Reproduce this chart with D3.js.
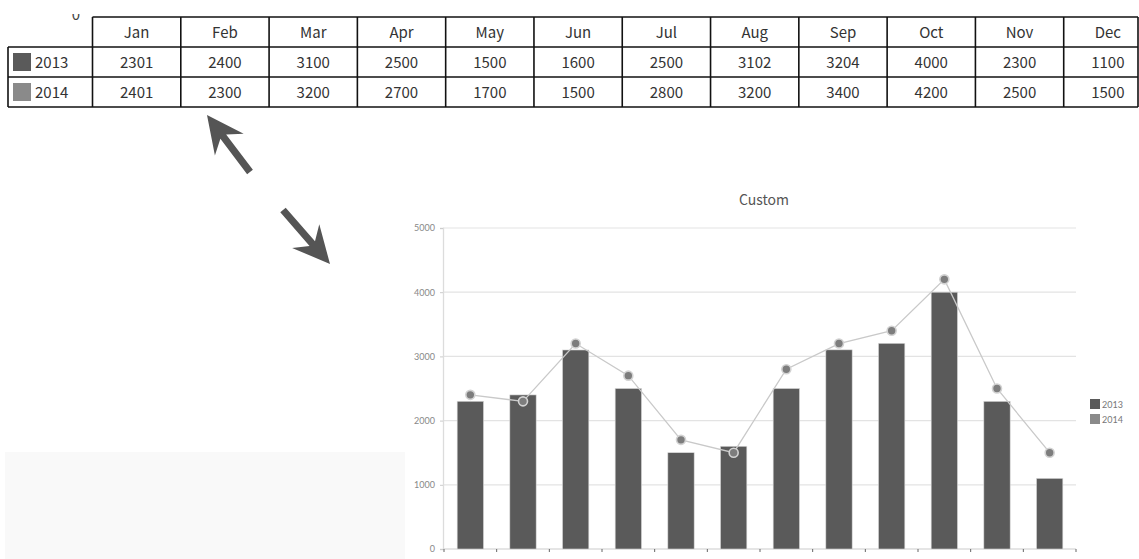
<!DOCTYPE html>
<html><head><meta charset="utf-8">
<script src="https://cdn.jsdelivr.net/npm/d3@7"></script>
<style>html,body{margin:0;padding:0;background:#fff;overflow:hidden}</style>
</head><body>
<svg id="c" width="1139" height="559"></svg>
<script>
const months = ["Jan","Feb","Mar","Apr","May","Jun","Jul","Aug","Sep","Oct","Nov","Dec"];
const series = ["2013","2014"];
const values2013 = [2301,2400,3100,2500,1500,1600,2500,3102,3204,4000,2300,1100];
const values2014 = [2401,2300,3200,2700,1700,1500,2800,3200,3400,4200,2500,1500];
const yTicks = [0,1000,2000,3000,4000,5000];
const chartTitle = "Custom";

const colors = {"2013":"#5a5a5a","2014":"#8a8a8a"};
const svg = d3.select("#c");

// background panel bottom-left
svg.append("rect").attr("x",5).attr("y",452).attr("width",400).attr("height",107).attr("fill","#f9f9f9");

// ---------- TABLE ----------
const tFont = "'Noto Sans CJK KR','Noto Sans',sans-serif";
const colX = d3.scaleBand().domain(months).range([92.5,1152]);
const rowY = d3.scaleBand().domain(["head"].concat(series)).range([17,107]);
const tableLeft = 8, tableRight = 1138;
const tbl = svg.append("g");
svg.append("defs").append("clipPath").attr("id","tc").append("rect").attr("x",0).attr("y",14).attr("width",1139).attr("height",100);
tbl.append("text").attr("x",76).attr("y",19.5).attr("text-anchor","middle").attr("font-family",tFont).attr("font-size",15).attr("fill","#444").attr("clip-path","url(#tc)").text("0");
// header texts
tbl.selectAll("text.h").data(months).join("text").attr("class","h")
  .attr("x",d=>colX(d)+colX.bandwidth()/2).attr("y",rowY("head")+rowY.bandwidth()/2+5.5)
  .attr("text-anchor","middle").attr("font-family",tFont).attr("font-size",15).attr("fill","#333").text(d=>d);
// rows
series.forEach((s,si)=>{
  const vals = si===0?values2013:values2014;
  const yc = rowY(s)+rowY.bandwidth()/2;
  tbl.append("rect").attr("x",13).attr("y",yc-9).attr("width",18).attr("height",18).attr("fill",colors[s]);
  tbl.append("text").attr("x",35).attr("y",yc+5.5).attr("font-family",tFont).attr("font-size",15).attr("fill","#333").text(s);
  tbl.selectAll("text.v"+s).data(vals).join("text").attr("class","v"+s)
    .attr("x",(d,i)=>colX(months[i])+colX.bandwidth()/2).attr("y",yc+5.5)
    .attr("text-anchor","middle").attr("font-family",tFont).attr("font-size",15).attr("fill","#333").text(d=>d);
});
// lines
const lw = 1.6, lc = "#111";
tbl.append("line").attr("x1",colX.range()[0]).attr("x2",tableRight).attr("y1",rowY("head")).attr("y2",rowY("head")).attr("stroke",lc).attr("stroke-width",lw);
[rowY(series[0]),rowY(series[1]),rowY(series[1])+rowY.bandwidth()].forEach(y=>{
  tbl.append("line").attr("x1",tableLeft).attr("x2",tableRight).attr("y1",y).attr("y2",y).attr("stroke",lc).attr("stroke-width",lw);
});
tbl.append("line").attr("x1",tableLeft).attr("x2",tableLeft).attr("y1",rowY(series[0])).attr("y2",107).attr("stroke",lc).attr("stroke-width",lw);
months.forEach(m=>{
  const x = colX(m);
  tbl.append("line").attr("x1",x).attr("x2",x).attr("y1",17).attr("y2",107).attr("stroke",lc).attr("stroke-width",lw);
});
tbl.append("line").attr("x1",tableRight).attr("x2",tableRight).attr("y1",17).attr("y2",107).attr("stroke",lc).attr("stroke-width",lw);

// ---------- ARROWS ----------
function arrow(x1,y1,x2,y2){
  const dx=x2-x1, dy=y2-y1, L=Math.hypot(dx,dy), ux=dx/L, uy=dy/L, px=-uy, py=ux;
  const hl=37, hw=18, notch=27, sw=3.6;
  const bx=x2-ux*hl, by=y2-uy*hl, nx=x2-ux*notch, ny=y2-uy*notch;
  const pts=[[x1+px*sw,y1+py*sw],[nx+px*sw,ny+py*sw],[bx+px*hw,by+py*hw],[x2,y2],[bx-px*hw,by-py*hw],[nx-px*sw,ny-py*sw],[x1-px*sw,y1-py*sw]];
  svg.append("path").attr("d","M"+pts.map(p=>p.join(",")).join("L")+"Z").attr("fill","#555");
}
arrow(250,172,207,115);
arrow(283,210,330,264);

// ---------- CHART ----------
const y = d3.scaleLinear().domain([0,5000]).range([549,228]);
const x = d3.scaleBand().domain(months).range([444,1076]).paddingInner(0.5).paddingOuter(0.25);
const cFont = "'Lato','DejaVu Sans',sans-serif";
const g = svg.append("g");
// gridlines
g.selectAll("line.grid").data(yTicks.filter(t=>t>0)).join("line").attr("class","grid")
  .attr("x1",443).attr("x2",1076).attr("y1",d=>y(d)).attr("y2",d=>y(d)).attr("stroke","#e3e3e3").attr("stroke-width",1.2);
// y axis
const yAxis = d3.axisLeft(y).tickValues(yTicks).tickFormat(d3.format("d")).tickSize(3).tickPadding(5);
const ya = g.append("g").attr("transform","translate(443,0)").call(yAxis);
ya.select(".domain").attr("stroke","#dcdcdc").attr("stroke-width",1.3);
ya.selectAll(".tick line").attr("stroke","#ccc");
ya.selectAll("text").attr("font-family",cFont).attr("font-size",9).attr("fill","#888");
// x axis
g.append("line").attr("x1",443).attr("x2",1076).attr("y1",549).attr("y2",549).attr("stroke","#dcdcdc").attr("stroke-width",1.3);
const bounds = months.map(m=>x(m)-x.step()*0.25).concat([x.range()[1]]);
g.selectAll("line.xt").data(bounds).join("line").attr("class","xt")
  .attr("x1",d=>d).attr("x2",d=>d).attr("y1",549).attr("y2",552).attr("stroke","#666").attr("stroke-width",1);
// bars
g.selectAll("rect.bar").data(values2013).join("rect").attr("class","bar")
  .attr("x",(d,i)=>x(months[i])).attr("width",x.bandwidth())
  .attr("y",d=>y(d)).attr("height",d=>y(0)-y(d))
  .attr("fill",colors["2013"]).attr("stroke","#d8d8d8").attr("stroke-width",0.6);
// line
const line = d3.line().x((d,i)=>x(months[i])+x.bandwidth()/2).y(d=>y(d));
g.append("path").datum(values2014).attr("d",line).attr("fill","none").attr("stroke","#c9c9c9").attr("stroke-width",1.3);
g.selectAll("circle.pt").data(values2014).join("circle").attr("class","pt")
  .attr("cx",(d,i)=>x(months[i])+x.bandwidth()/2).attr("cy",d=>y(d)).attr("r",4.5)
  .attr("fill","#7d7d7d").attr("stroke","#d2d2d2").attr("stroke-width",1.6);
// title
svg.append("text").attr("x",764).attr("y",205).attr("text-anchor","middle").attr("font-family","'Noto Sans CJK KR','Noto Sans',sans-serif").attr("font-size",14).attr("fill","#555").text(chartTitle);
// legend
const lg = svg.append("g").attr("transform","translate(1090,399)");
series.forEach((s,i)=>{
  lg.append("rect").attr("x",0).attr("y",i*15).attr("width",10).attr("height",10).attr("fill",colors[s]);
  lg.append("text").attr("x",12).attr("y",i*15+8.5).attr("font-family",cFont).attr("font-size",9).attr("fill","#777").text(s);
});
</script>
</body></html>
